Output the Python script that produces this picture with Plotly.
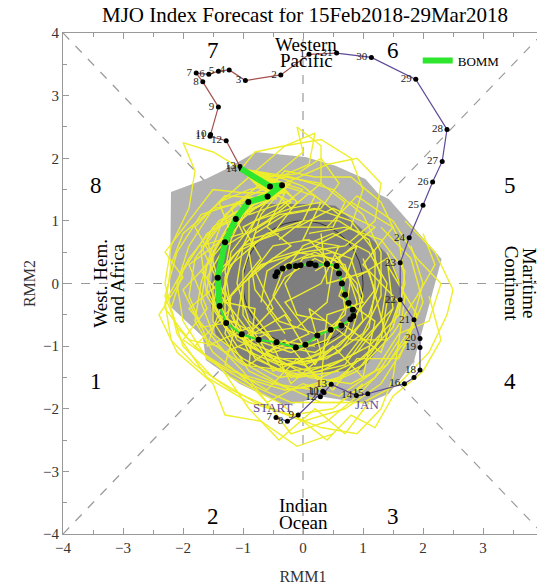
import numpy as np
import plotly.graph_objects as go

# ---------------- data ----------------
title = "MJO Index Forecast for 15Feb2018-29Mar2018"
tick_vals = [-4, -3, -2, -1, 0, 1, 2, 3, 4]

# observed track (January part, then February part)
jan_days = ["7", "8", "9", "10", "11", "12", "13", "14", "15", "16", "", "18", "19", "20",
            "21", "22", "23", "24", "25", "26", "27", "28", "29", "30", "31"]
jan_x = [-0.45, -0.26, -0.08, 0.33, 0.35, 0.29, 0.47, 0.89, 1.08, 1.69, 1.85, 1.95, 1.95, 1.95,
         1.85, 1.62, 1.62, 1.77, 2.00, 2.16, 2.32, 2.40, 1.88, 1.14, 0.56]
jan_y = [-2.14, -2.20, -2.10, -1.72, -1.74, -1.81, -1.61, -1.79, -1.76, -1.60, -1.50, -1.38, -1.02, -0.88,
         -0.58, -0.26, 0.33, 0.73, 1.25, 1.62, 1.95, 2.46, 3.26, 3.61, 3.68]
feb_days = ["1", "2", "3", "4", "5", "6", "7", "8", "9", "10", "11", "12", "13", "14"]
feb_x = [0.10, -0.37, -0.96, -1.23, -1.41, -1.57, -1.78, -1.67, -1.41, -1.54, -1.55, -1.28, -1.05, -1.03]
feb_y = [3.66, 3.33, 3.24, 3.41, 3.39, 3.34, 3.36, 3.22, 2.82, 2.38, 2.35, 2.28, 1.87, 1.83]

# BOMM ensemble-mean forecast
bomm_x = [-1.03, -0.55, -0.35, -0.59, -0.91, -1.12, -1.30, -1.42, -1.39, -1.28, -1.02, -0.74, -0.44,
          -0.12, 0.04, 0.24, 0.46, 0.64, 0.79, 0.84, 0.83, 0.76, 0.70, 0.65, 0.60, 0.56, 0.40, 0.21,
          0.13, 0.10, -0.04, -0.12, -0.23, -0.34, -0.43, -0.46]
bomm_y = [1.83, 1.55, 1.57, 1.39, 1.30, 1.03, 0.66, 0.09, -0.36, -0.63, -0.81, -0.90, -0.94,
          -1.02, -0.98, -0.83, -0.74, -0.67, -0.57, -0.52, -0.42, -0.31, -0.18, 0.00, 0.16, 0.28, 0.31, 0.29,
          0.32, 0.31, 0.29, 0.28, 0.27, 0.24, 0.18, 0.12]
n_thick = 9

# ensemble spread areas
light_x = [-2.20, -1.62, -1.28, -0.79, 0.04, 0.54, 1.04, 1.26, 1.43, 2.31, 1.81, 1.87, 1.43, 1.04,
           0.32, -0.30, -1.06, -1.62, -1.67, -2.22]
light_y = [1.46, 1.67, 1.83, 2.10, 2.02, 1.88, 1.67, 1.43, 1.35, 0.39, -1.38, -1.22, -1.76, -1.92,
           -1.81, -1.95, -1.60, -1.22, -0.85, -0.36]
dark_x = [-1.12, -0.73, 0.21, 0.54, 0.98, 1.43, 1.65, 1.43, 0.98, 0.30, -0.30, -0.90, -1.45, -1.56, -1.45]
dark_y = [1.08, 1.27, 1.27, 1.24, 0.87, 0.44, -0.04, -0.85, -1.38, -1.42, -1.40, -1.33, -0.85, -0.20, 0.60]

# ensemble members (read approximately)
members = [
    [(-1.03,1.83),(-0.5,1.6),(-0.3,1.5),(-0.8,1.2),(-1.3,0.8),(-1.6,0.3),(-1.7,-0.3),(-1.5,-0.8),(-1.0,-1.2),(-0.4,-1.5),(0.3,-1.4),(0.9,-1.1),(1.3,-0.6),(1.4,0.0),(1.1,0.5),(0.5,0.8),(0.0,0.6),(-0.3,0.2)],
    [(-1.03,1.83),(-0.4,1.7),(0.1,1.9),(0.2,2.4),(-0.3,2.2),(-0.9,1.7),(-1.5,1.2),(-1.9,0.6),(-2.1,0.0),(-2.0,-0.6),(-1.6,-1.2),(-0.9,-1.6),(-0.2,-1.9),(0.6,-1.9),(1.2,-1.5),(1.6,-0.9),(1.7,-0.2),(1.4,0.5)],
    [(-1.03,1.83),(-0.6,1.5),(-0.2,1.6),(-0.6,1.3),(-1.2,1.0),(-1.5,0.5),(-1.6,-0.1),(-1.3,-0.7),(-0.7,-1.1),(0.0,-1.3),(0.6,-1.1),(1.0,-0.6),(0.9,0.0),(0.5,0.4),(-0.1,0.5),(-0.6,0.2),(-0.7,-0.3)],
    [(-1.03,1.83),(-0.8,1.6),(-0.3,1.7),(0.3,1.6),(0.7,1.3),(0.5,0.9),(-0.2,0.9),(-0.9,0.7),(-1.4,0.2),(-1.5,-0.4),(-1.1,-1.0),(-0.4,-1.3),(0.3,-1.2),(0.8,-0.8),(1.0,-0.2),(0.8,0.4),(0.2,0.6)],
    [(-1.03,1.83),(-0.5,1.55),(-0.6,1.3),(-1.1,1.1),(-1.6,0.8),(-2.0,0.2),(-2.2,-0.4),(-2.0,-1.0),(-1.5,-1.5),(-0.8,-1.9),(0.0,-2.2),(0.7,-2.0),(1.3,-1.6),(1.7,-1.0),(2.0,-0.3),(1.8,0.4),(1.3,0.9)],
    [(-1.03,1.83),(-0.4,1.5),(-0.7,1.2),(-1.0,0.6),(-1.1,0.0),(-0.9,-0.6),(-0.4,-1.0),(0.2,-1.1),(0.7,-0.8),(0.9,-0.3),(0.7,0.3),(0.2,0.5),(-0.3,0.3),(-0.5,-0.2),(-0.2,-0.6)],
    [(-1.03,1.83),(-0.3,1.6),(0.4,1.9),(0.9,2.0),(1.3,1.6),(1.2,1.0),(0.7,0.6),(0.0,0.5),(-0.7,0.3),(-1.2,-0.2),(-1.3,-0.8),(-0.9,-1.4),(-0.2,-1.7),(0.6,-1.5),(1.2,-1.0),(1.5,-0.4)],
    [(-1.03,1.83),(-0.7,1.5),(-0.3,1.45),(-0.9,1.35),(-1.7,1.1),(-2.1,0.5),(-2.3,-0.2),(-2.1,-0.7),(-1.7,-1.1),(-1.2,-1.4),(-0.5,-1.6),(0.2,-1.7),(0.9,-1.4),(1.3,-0.9),(1.4,-0.3)],
    [(-1.03,1.83),(-0.6,1.7),(-0.1,1.75),(0.3,2.0),(0.6,1.6),(0.3,1.2),(-0.3,1.1),(-0.8,0.8),(-1.0,0.2),(-1.0,-0.5),(-0.6,-1.1),(0.1,-1.5),(0.8,-1.6),(1.4,-1.3),(1.8,-0.7),(2.0,0.0),(1.8,0.6)],
    [(-1.03,1.83),(-0.45,1.6),(-0.9,1.4),(-1.3,1.1),(-1.5,0.6),(-1.7,0.0),(-1.8,-0.6),(-1.5,-1.1),(-1.0,-1.5),(-0.3,-1.7),(0.4,-1.6),(1.0,-1.3),(1.5,-0.8),(1.9,-0.2),(2.2,0.3),(2.0,0.8)],
    [(-1.03,1.83),(-0.5,1.45),(-0.2,1.3),(-0.6,1.0),(-1.3,0.6),(-1.6,0.1),(-1.4,-0.5),(-0.8,-0.8),(-0.1,-0.7),(0.4,-0.3),(0.5,0.3),(0.1,0.7),(-0.5,0.6),(-0.9,0.1),(-0.9,-0.4),(-0.5,-0.9),(0.2,-1.0)],
    [(-1.03,1.83),(-0.2,1.7),(0.5,1.5),(1.0,1.1),(1.3,0.5),(1.3,-0.2),(1.0,-0.8),(0.4,-1.2),(-0.3,-1.3),(-0.9,-1.0),(-1.3,-0.5),(-1.3,0.1),(-1.0,0.6),(-0.4,0.8)],
    [(-1.03,1.83),(-0.6,1.6),(-0.25,1.55),(-0.7,1.25),(-1.4,0.9),(-1.8,0.4),(-1.9,-0.2),(-1.6,-0.9),(-1.0,-1.3),(-0.2,-1.4),(0.5,-1.3),(1.1,-1.0),(1.6,-0.5),(1.7,0.2),(1.3,0.7),(0.7,0.9),(0.1,0.8)],
    [(-1.03,1.83),(-0.35,1.5),(-0.8,1.3),(-1.4,1.0),(-1.9,0.4),(-2.3,-0.3),(-2.2,-0.9),(-1.8,-1.3),(-1.2,-1.7),(-0.5,-2.0),(0.3,-2.3),(0.9,-2.4),(1.3,-2.0),(1.5,-1.5),(1.6,-0.9)],
    [(-1.03,1.83),(-0.5,1.7),(0.0,2.1),(-0.1,2.5),(0.3,2.2),(0.3,1.6),(-0.2,1.2),(-0.8,1.0),(-1.2,0.5),(-1.3,-0.1),(-1.1,-0.7),(-0.6,-1.2),(0.1,-1.4),(0.7,-1.2),(1.1,-0.7),(1.2,-0.1),(1.0,0.4)],
    [(-1.03,1.83),(-0.7,1.55),(-0.4,1.4),(-1.0,1.2),(-1.5,0.9),(-1.7,0.5),(-1.6,-0.2),(-1.2,-0.8),(-0.5,-1.1),(0.2,-0.9),(0.7,-0.5),(0.8,0.1),(0.5,0.5),(0.0,0.4),(-0.3,0.0),(-0.1,-0.5),(0.4,-0.6)],
    [(-1.03,1.83),(-0.45,1.65),(-0.1,1.3),(-0.5,0.8),(-1.1,0.5),(-1.5,0.0),(-1.5,-0.6),(-1.1,-1.2),(-0.4,-1.6),(0.3,-1.9),(1.0,-1.9),(1.6,-1.6),(2.1,-1.1),(2.4,-0.5),(2.5,-0.1),(2.2,0.5),(1.7,1.0)],
    [(-1.03,1.83),(-0.6,1.45),(-1.0,1.1),(-1.2,0.7),(-1.3,0.2),(-1.2,-0.4),(-0.8,-0.9),(-0.2,-1.1),(0.4,-0.9),(0.7,-0.4),(0.6,0.2),(0.2,0.4),(-0.3,0.1),(-0.6,-0.4),(-0.3,-0.8)],
    [(-1.03,1.83),(-0.3,1.55),(0.2,1.4),(0.0,1.0),(-0.6,0.8),(-1.2,0.3),(-1.4,-0.3),(-1.1,-0.9),(-0.5,-1.2),(0.1,-1.2),(0.6,-1.0),(1.1,-0.5),(1.3,0.1),(1.1,0.7),(0.6,1.0),(0.0,1.0),(-0.4,0.7)],
    [(-1.03,1.83),(-0.55,1.5),(-0.9,1.3),(-1.5,1.2),(-2.0,0.8),(-2.2,0.3),(-2.3,-0.4),(-1.9,-0.9),(-1.4,-1.0),(-1.0,-1.4),(-0.6,-1.9),(-0.2,-2.4),(0.4,-2.2),(0.9,-1.8),(1.4,-1.3),(1.8,-0.8)],
    [(-1.03,1.83),(-0.4,1.45),(-0.7,1.1),(-0.9,0.5),(-0.8,-0.1),(-0.4,-0.6),(0.2,-0.8),(0.8,-0.6),(1.2,-0.1),(1.2,0.5),(0.8,1.0),(0.2,1.2),(-0.4,1.1),(-0.9,0.8)],
    [(-1.03,1.83),(-0.5,1.6),(-0.3,1.8),(0.2,1.7),(0.8,1.7),(1.3,1.3),(1.6,0.7),(1.7,0.0),(1.5,-0.7),(1.0,-1.2),(0.3,-1.5),(-0.4,-1.4),(-0.9,-1.1),(-1.2,-0.5)],
    [(-1.03,1.83),(-1.5,2.1),(-2.0,2.25),(-1.8,1.8),(-1.9,1.2),(-2.2,0.6),(-2.3,0.0),(-2.1,-0.8),(-1.6,-1.5),(-0.9,-1.9),(-0.2,-2.1),(0.5,-2.0),(1.0,-1.6)],
    [(-1.03,1.83),(-0.8,2.1),(-0.3,2.2),(0.3,2.3),(0.8,2.0),(1.0,1.5),(0.8,0.9),(0.2,0.6),(-0.5,0.4),(-1.0,0.0),(-1.1,-0.6),(-0.8,-1.2),(-0.1,-1.5),(0.6,-1.4)],
    [(-1.03,1.83),(-0.4,1.55),(-0.15,1.35),(-0.9,1.1),(-1.1,1.3),(-1.6,0.7),(-1.4,0.0),(-1.9,-0.4),(-1.3,-1.1),(-0.6,-0.8),(-0.2,-1.6),(0.5,-1.0),(1.0,-1.5),(1.2,-0.6),(0.6,-0.2),(0.9,0.6),(0.2,0.2)],
    [(-1.03,1.83),(-0.5,1.5),(-0.7,1.6),(-1.2,1.2),(-1.0,0.8),(-1.7,0.6),(-1.3,-0.2),(-1.6,-1.0),(-0.9,-0.7),(-0.5,-1.4),(0.3,-1.1),(0.1,-0.4),(0.8,-0.9),(1.4,-0.9),(1.1,0.2),(0.4,0.0),(0.3,0.8)],
    [(-1.03,1.83),(-0.3,1.45),(-0.6,0.9),(-0.2,0.6),(-0.8,0.2),(-0.5,-0.4),(-1.0,-0.9),(-0.3,-0.5),(0.2,-1.3),(0.6,-0.6),(1.3,-1.1),(1.6,-0.3),(1.0,0.3),(1.5,0.9),(0.8,1.3),(0.4,0.9)],
    [(-1.03,1.83),(-0.6,1.75),(-0.45,1.35),(-1.3,1.4),(-1.8,0.9),(-1.5,0.4),(-2.0,-0.1),(-1.7,-0.7),(-1.1,-0.6),(-1.3,-1.3),(-0.6,-1.7),(-0.1,-1.2),(0.5,-1.7),(0.9,-1.2),(1.6,-1.2),(1.9,-0.5),(1.4,0.3)],
    [(-1.03,1.83),(-0.5,1.65),(0.0,1.5),(-0.4,1.2),(-1.0,0.9),(-0.7,0.4),(-1.3,-0.3),(-0.8,-0.4),(-0.9,-1.3),(-0.3,-0.9),(0.3,-1.6),(0.4,-0.5),(1.0,-0.3),(0.6,0.4),(1.2,0.9),(0.5,1.2),(-0.1,0.9)],
    [(-1.03,1.83),(-0.45,1.5),(-0.75,1.4),(-1.1,0.9),(-1.7,0.2),(-1.2,-0.4),(-1.8,-1.0),(-1.2,-1.5),(-0.4,-1.9),(0.4,-2.5),(0.8,-2.1),(1.2,-2.3),(1.5,-1.8),(2.0,-1.4),(2.3,-0.9),(2.1,-0.2)],
    [(-1.03,1.83),(-0.35,1.6),(-0.9,1.5),(-1.4,1.3),(-1.2,0.8),(-1.9,0.3),(-1.6,-0.4),(-2.0,-0.9),(-1.4,-1.3),(-0.9,-2.0),(-0.4,-2.5),(0.2,-2.0),(0.7,-2.4),(1.1,-1.9)],
    [(-1.03,1.83),(-0.55,1.55),(-0.2,1.2),(0.3,1.3),(0.0,0.7),(0.6,0.6),(0.3,0.0),(-0.3,-0.3),(0.1,-0.8),(-0.6,-1.1),(-0.2,-1.5),(0.7,-1.3),(1.0,-0.9),(1.5,-0.4),(1.4,0.4),(0.9,0.1)],
    [(-1.03,1.83),(-0.4,1.7),(0.0,1.55),(0.6,1.1),(0.9,1.4),(1.5,1.0),(1.9,0.4),(2.3,0.0),(2.1,-0.6),(1.6,-0.8),(1.2,-1.4),(0.6,-1.8),(0.0,-1.6),(-0.6,-1.9),(-1.1,-1.4)],
    [(-1.03,1.83),(-0.5,1.45),(-1.0,1.45),(-1.5,1.5),(-1.9,1.0),(-2.3,0.5),(-2.0,0.1),(-2.4,-0.5),(-2.1,-1.1),(-1.5,-1.6),(-1.3,-2.1),(-0.7,-2.2),(-0.1,-2.6),(0.5,-2.4)],
]

phase_nums = ["7", "6", "8", "5", "1", "4", "2", "3"]
phase_x = [-1.5, 1.5, -3.45, 3.45, -3.45, 3.45, -1.5, 1.5]
phase_y = [3.72, 3.72, 1.56, 1.56, -1.56, -1.56, -3.72, -3.72]

# region names: (text, x, y, angle)
regions = [
    ("Western", 0.05, 3.82, 0), ("Pacific", 0.05, 3.56, 0),
    ("Indian", 0.0, -3.55, 0), ("Ocean", 0.0, -3.81, 0),
    ("West. Hem.", -3.38, 0.0, -90), ("and Africa", -3.10, 0.0, -90),
    ("Continent", 3.48, 0.0, 90), ("Maritime", 3.78, 0.0, 90),
]

SERIF = "Liberation Serif"

fig = go.Figure()

# dashed phase dividers (below everything)
for (x0, y0, x1, y1) in [(0, -4, 0, 4), (-4, 0, 4, 0), (-4, -4, 4, 4), (-4, 4, 4, -4)]:
    fig.add_shape(type="line", x0=x0, y0=y0, x1=x1, y1=y1, xref="x", yref="y", layer="below",
                  line=dict(color="#9a9a9a", width=1.2, dash="dash"))

# spread areas
fig.add_trace(go.Scatter(x=light_x + [light_x[0]], y=light_y + [light_y[0]], fill="toself", mode="lines",
                         line=dict(width=0), fillcolor="#b2b2b2", hoverinfo="skip", showlegend=False))
fig.add_trace(go.Scatter(x=dark_x + [dark_x[0]], y=dark_y + [dark_y[0]], fill="toself", mode="lines",
                         line=dict(width=0), fillcolor="#7e7e7e", hoverinfo="skip", showlegend=False))

# unit circle
th = np.linspace(0, 2 * np.pi, 200)
fig.add_trace(go.Scatter(x=np.cos(th), y=np.sin(th), mode="lines", line=dict(color="#333333", width=1),
                         hoverinfo="skip", showlegend=False))

# ensemble members
for m in members:
    fig.add_trace(go.Scatter(x=[p[0] for p in m], y=[p[1] for p in m], mode="lines",
                             line=dict(color="#eeee2c", width=1.4), hoverinfo="skip", showlegend=False))

# observed track
fig.add_trace(go.Scatter(x=jan_x, y=jan_y, mode="lines", line=dict(color="#5e4a96", width=1.2),
                         showlegend=False))
fig.add_trace(go.Scatter(x=[jan_x[-1]] + feb_x, y=[jan_y[-1]] + feb_y, mode="lines",
                         line=dict(color="#a4504c", width=1.2), showlegend=False))
fig.add_trace(go.Scatter(x=jan_x + feb_x, y=jan_y + feb_y, mode="markers+text",
                         text=jan_days + feb_days, textposition="middle left",
                         textfont=dict(family=SERIF, size=11, color="#222222"),
                         marker=dict(color="black", size=5), showlegend=False))

# BOMM forecast
fig.add_trace(go.Scatter(x=bomm_x[n_thick - 1:], y=bomm_y[n_thick - 1:], mode="lines",
                         line=dict(color="#2ee62e", width=2), showlegend=False))
fig.add_trace(go.Scatter(x=bomm_x[:n_thick], y=bomm_y[:n_thick], mode="lines", name="BOMM",
                         line=dict(color="#2ee62e", width=6), showlegend=True))
fig.add_trace(go.Scatter(x=bomm_x[1:], y=bomm_y[1:], mode="markers", marker=dict(color="black", size=6),
                         showlegend=False))

annots = []
for t, x, y in zip(phase_nums, phase_x, phase_y):
    annots.append(dict(x=x, y=y, text=t, showarrow=False, font=dict(family=SERIF, size=23, color="black")))
for t, x, y, a in regions:
    annots.append(dict(x=x, y=y, text=t, showarrow=False, textangle=a,
                       font=dict(family=SERIF, size=19, color="black")))
annots += [
    dict(x=-0.51, y=-1.98, text="START", showarrow=False, font=dict(family=SERIF, size=13, color="#5e4a96")),
    dict(x=1.07, y=-1.94, text="JAN", showarrow=False, font=dict(family=SERIF, size=13, color="#5e4a96")),
]

axis_common = dict(range=[-4, 4], tickvals=tick_vals, ticks="inside", ticklen=6, tickcolor="#999999",
                   showline=True, linecolor="#999999", linewidth=1, mirror="ticks", showgrid=False,
                   zeroline=False, automargin=False, ticklabeloverflow="allow",
                   tickfont=dict(family=SERIF, size=15, color="#333333"),
                   minor=dict(ticks="inside", ticklen=4, dtick=0.5, tick0=0, tickcolor="#999999"))

# the page body has an 8px default margin, so the figure is sized to fit inside the window
fig.update_layout(
    width=537, height=578,
    margin=dict(l=55, r=2, t=25, b=52),
    paper_bgcolor="white", plot_bgcolor="white",
    title=dict(text=title, x=0.553, xanchor="center", y=0.988, yanchor="middle",
               font=dict(family=SERIF, size=21, color="black")),
    xaxis=dict(axis_common, title=dict(text="RMM1", font=dict(family=SERIF, size=16, color="#333333"),
                                       standoff=15)),
    yaxis=dict(axis_common, title=dict(text="RMM2", font=dict(family=SERIF, size=16, color="#333333"),
                                       standoff=3)),
    legend=dict(x=0.739, y=0.945, xanchor="left", yanchor="middle", bgcolor="rgba(0,0,0,0)",
                font=dict(family=SERIF, size=13, color="black")),
    annotations=annots,
)

fig.write_html("out.html")
